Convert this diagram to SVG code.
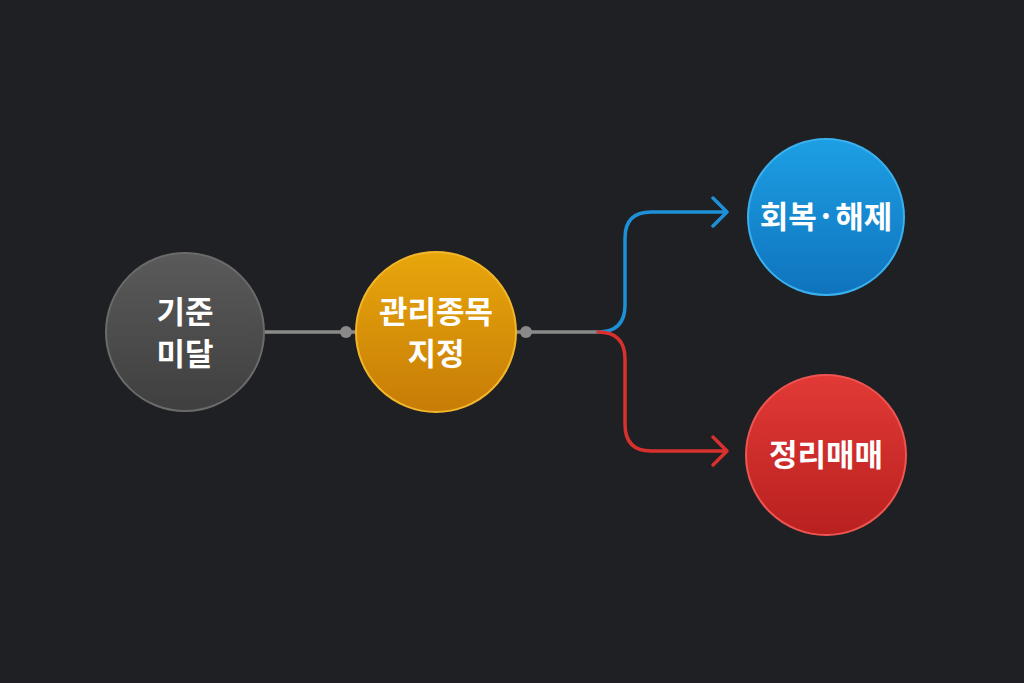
<svg xmlns="http://www.w3.org/2000/svg" width="1024" height="683" viewBox="0 0 1024 683">
<defs>
<style>
.t{font-family:"Noto Sans CJK KR","Noto Sans",sans-serif;font-weight:bold;font-size:31px;fill:#fff;text-anchor:middle}
.ln{fill:none;stroke-width:3.5;stroke-linecap:round;stroke-linejoin:round}
</style>
<linearGradient id="gg" x1="0" y1="0" x2="0" y2="1"><stop offset="0" stop-color="#5a5a5a"/><stop offset="1" stop-color="#3f3f3f"/></linearGradient>
<linearGradient id="gy" x1="0" y1="0" x2="0" y2="1"><stop offset="0" stop-color="#e8a60c"/><stop offset="1" stop-color="#c77c06"/></linearGradient>
<linearGradient id="gb" x1="0" y1="0" x2="0" y2="1"><stop offset="0" stop-color="#1d9fe4"/><stop offset="1" stop-color="#0f73bd"/></linearGradient>
<linearGradient id="gr" x1="0" y1="0" x2="0" y2="1"><stop offset="0" stop-color="#e23a36"/><stop offset="1" stop-color="#b8201f"/></linearGradient>
</defs>
<rect width="1024" height="683" fill="#1f2024"/>
<g id="connectors">
<line class="ln" x1="265" y1="332" x2="356" y2="332" stroke="#8a8a8a"/>
<circle cx="346" cy="332" r="6" fill="#8a8a8a"/>
<line class="ln" x1="516" y1="332" x2="598" y2="332" stroke="#8a8a8a"/>
<circle cx="526" cy="332" r="6" fill="#8a8a8a"/>
<path class="ln" stroke="#1e90d8" d="M598 332 Q625 332 625 305 V238 Q625 212 651 212 H726 M713 198 L727 212 L713 226"/>
<path class="ln" stroke="#d8302c" d="M598 332 Q625 332 625 359 V424 Q625 451 651 451 H726 M713 437 L727 451 L713 465"/>
</g>
<g id="n1"><circle cx="185" cy="332" r="79" fill="url(#gg)" stroke="#6a6a6a" stroke-width="2"/>
<text class="t" x="185" y="323">기준</text><text class="t" x="185" y="365">미달</text></g>
<g id="n2"><circle cx="436" cy="332" r="80" fill="url(#gy)" stroke="#f2b62a" stroke-width="2"/>
<text class="t" x="436" y="323">관리종목</text><text class="t" x="436" y="365">지정</text></g>
<g id="n3"><circle cx="826" cy="217" r="78" fill="url(#gb)" stroke="#3bb0ee" stroke-width="2"/>
<text class="t" x="826" y="228">회복·해제</text></g>
<g id="n4"><circle cx="826" cy="455" r="80" fill="url(#gr)" stroke="#ee5450" stroke-width="2"/>
<text class="t" x="826" y="466">정리매매</text></g>
</svg>
